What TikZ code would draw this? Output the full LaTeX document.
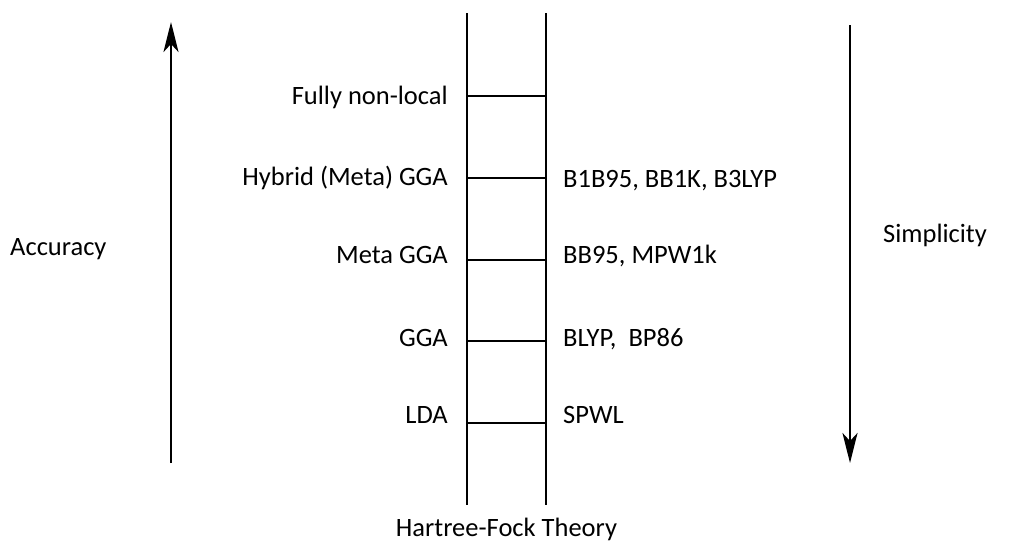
\documentclass[tikz,border=0pt]{standalone}
\usepackage{fontspec}
\setmainfont{Carlito}
\usetikzlibrary{arrows.meta}
\begin{document}
\begin{tikzpicture}[x=1pt,y=-1pt,
  lbl/.style={inner sep=0pt, font=\fontsize{26.5}{30}\selectfont},
  rail/.style={line width=2.3pt},
  bigarrow/.style={line width=2.8pt, -{Stealth[length=30pt,width=15pt,inset=8pt]}}]
\useasboundingbox (0,0) rectangle (1009,542);
% rails
\coordinate (lt) at (467,13); \coordinate (lb) at (467,505);
\coordinate (rt) at (546,13); \coordinate (rb) at (546,505);
\draw[rail] (lt) -- (lb);
\draw[rail] (rt) -- (rb);
% rungs
\foreach \n/\y in {1/96,2/178,3/260,4/341,5/423}{
  \coordinate (rl\n) at (467,\y);
  \coordinate (rr\n) at (546,\y);
  \draw[rail] (rl\n) -- (rr\n);
}
% left labels
\node[lbl, anchor=base east] (l1) at (448,104) {Fully non-local};
\node[lbl, anchor=base east] (l2) at (448,185) {Hybrid (Meta) GGA};
\node[lbl, anchor=base east] (l3) at (448,263) {Meta GGA};
\node[lbl, anchor=base east] (l4) at (448,346) {GGA};
\node[lbl, anchor=base east] (l5) at (448,423) {LDA};
% right labels
\node[lbl, anchor=base west] (r2) at (563,187) {B1B95, BB1K, B3LYP};
\node[lbl, anchor=base west] (r3) at (563,263) {BB95, MPW1k};
\node[lbl, anchor=base west] (r4) at (563,346) {BLYP,\ \ BP86};
\node[lbl, anchor=base west] (r5) at (563,423) {SPWL};
% side labels
\node[lbl, anchor=base west] (acc) at (10,255) {Accuracy};
\node[lbl, anchor=base west] (simp) at (883,242) {Simplicity};
\node[lbl, anchor=base] (hf) at (506.5,536) {Hartree-Fock Theory};
% arrows
\coordinate (a0) at (171,463); \coordinate (a1) at (171,22);
\coordinate (s0) at (850,25); \coordinate (s1) at (850,463);
\draw[bigarrow] (a0) -- (a1);
\draw[bigarrow] (s0) -- (s1);
\end{tikzpicture}
\end{document}
